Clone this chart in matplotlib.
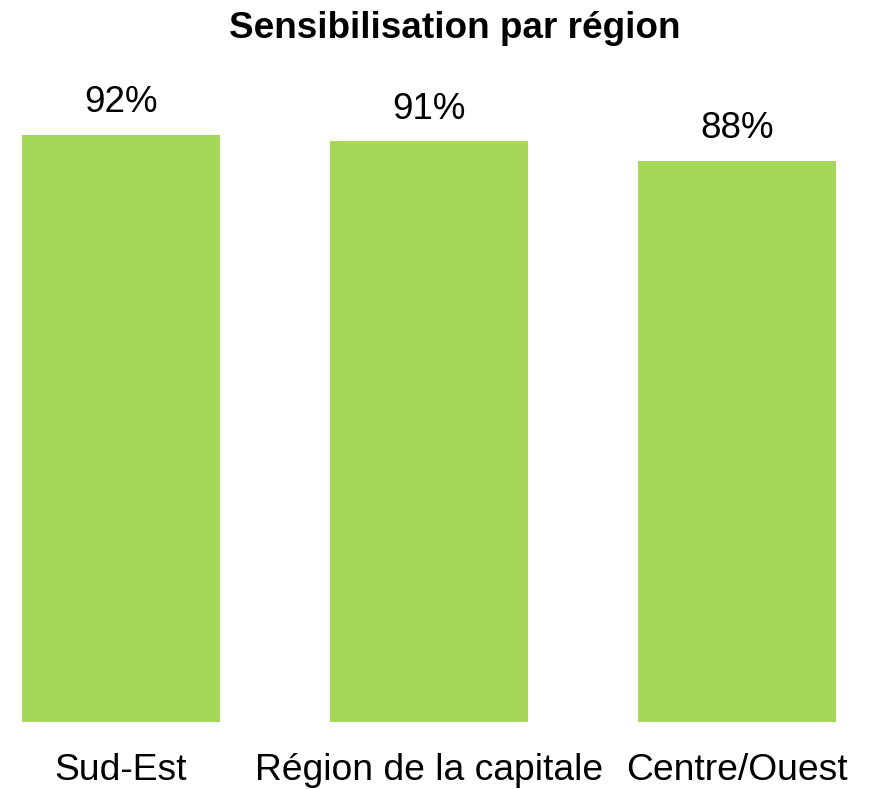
import matplotlib.pyplot as plt
import matplotlib.transforms as mtransforms

plt.rcParams['font.family'] = ['Liberation Sans', 'DejaVu Sans']

regions = ["Sud-Est", "Région de la capitale", "Centre/Ouest"]
values = [92, 91, 88]
title = "Sensibilisation par région"

W, H = 872, 789
fig = plt.figure(figsize=(W / 100, H / 100), dpi=100)

# axes placed in pixel terms: bar base at y=722, 100% at y=84
ax = fig.add_axes([0, (H - 722) / H, 1, 638 / H])
x = list(range(len(regions)))
ax.bar(x, values, width=198 / 308, color="#A6D75B")
ax.set_xlim(-121 / 308, (W - 121) / 308)
ax.set_ylim(0, 100)
ax.axis("off")

for xi, v in zip(x, values):
    ax.annotate(f"{v}%", (xi, v), xytext=(0, 16.5), textcoords="offset points",
                ha="center", va="baseline", fontsize=26.5)

trans = mtransforms.blended_transform_factory(ax.transData, fig.transFigure)
for xi, name in zip(x, regions):
    ax.text(xi, (H - 780) / H, name, transform=trans, ha="center",
            va="baseline", fontsize=26.8)

fig.text(455 / W, (H - 38) / H, title, ha="center", va="baseline",
         fontsize=26.6, fontweight="bold")

fig.savefig("out.png", dpi=100)
